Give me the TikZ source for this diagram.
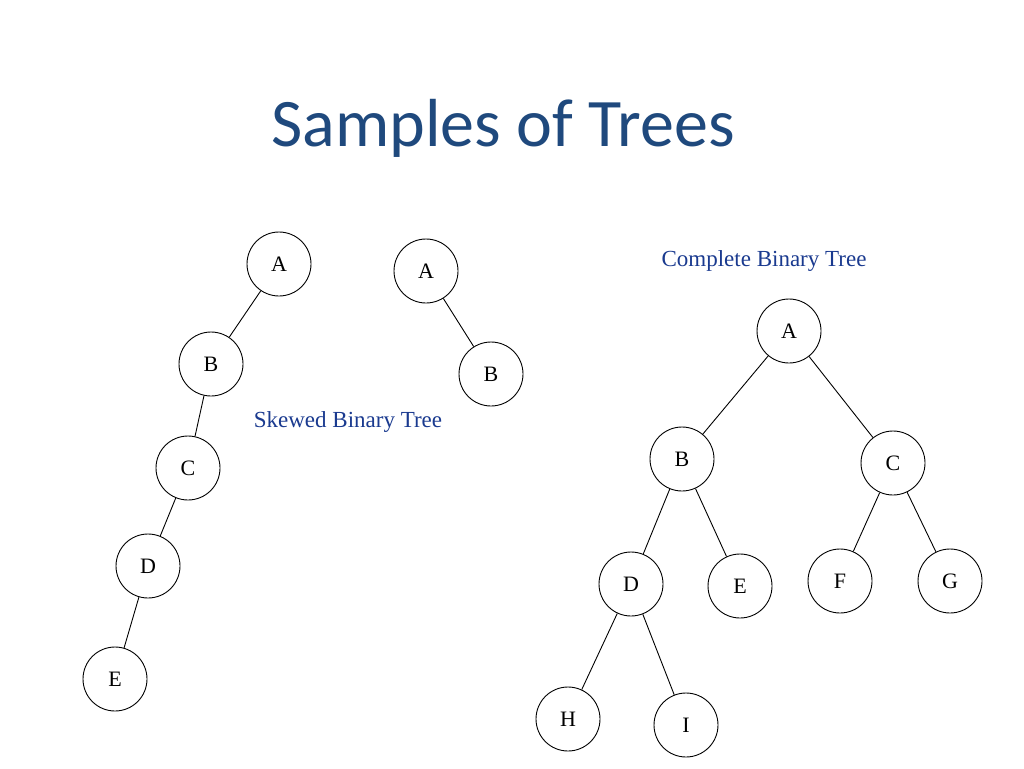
\documentclass[tikz,border=0pt]{standalone}
\usepackage{fontspec}
\setmainfont{Liberation Serif}
\newfontfamily\titlefont{Carlito}
\definecolor{titleblue}{HTML}{1F497D}
\definecolor{lblblue}{HTML}{1A3A8F}
\begin{document}
\begin{tikzpicture}[x=1pt,y=-1pt,
  tn/.style={draw,circle,minimum size=64pt,inner sep=0pt,line width=0.9pt,font=\fontsize{22}{24}\selectfont},
  ed/.style={line width=0.9pt}]
\useasboundingbox (0,0) rectangle (1024,768);
\node[font=\titlefont\fontsize{68}{72}\selectfont,text=titleblue] (title) at (503,128) {Samples of Trees};
% skewed left
\node[tn] (a1) at (279,264) {A};
\node[tn] (b1) at (211,364) {B};
\node[tn] (c1) at (188,468) {C};
\node[tn] (d1) at (148,566) {D};
\node[tn] (e1) at (115,679) {E};
\draw[ed] (a1)--(b1); \draw[ed] (b1)--(c1); \draw[ed] (c1)--(d1); \draw[ed] (d1)--(e1);
% skewed right
\node[tn] (a2) at (426,271) {A};
\node[tn] (b2) at (491,374) {B};
\draw[ed] (a2)--(b2);
\node[font=\fontsize{23}{26}\selectfont,text=lblblue] (l1) at (348,422) {Skewed Binary Tree};
\node[font=\fontsize{23}{26}\selectfont,text=lblblue] (l2) at (764,261) {Complete Binary Tree};
% complete
\node[tn] (A) at (789,331) {A};
\node[tn] (B) at (682,459) {B};
\node[tn] (C) at (893,463) {C};
\node[tn] (D) at (631,584) {D};
\node[tn] (E) at (740,586) {E};
\node[tn] (F) at (840,581) {F};
\node[tn] (G) at (950,581) {G};
\node[tn] (H) at (568,719) {H};
\node[tn] (I) at (686,725) {I};
\foreach \u/\v in {A/B,A/C,B/D,B/E,C/F,C/G,D/H,D/I} \draw[ed] (\u)--(\v);
\end{tikzpicture}
\end{document}
